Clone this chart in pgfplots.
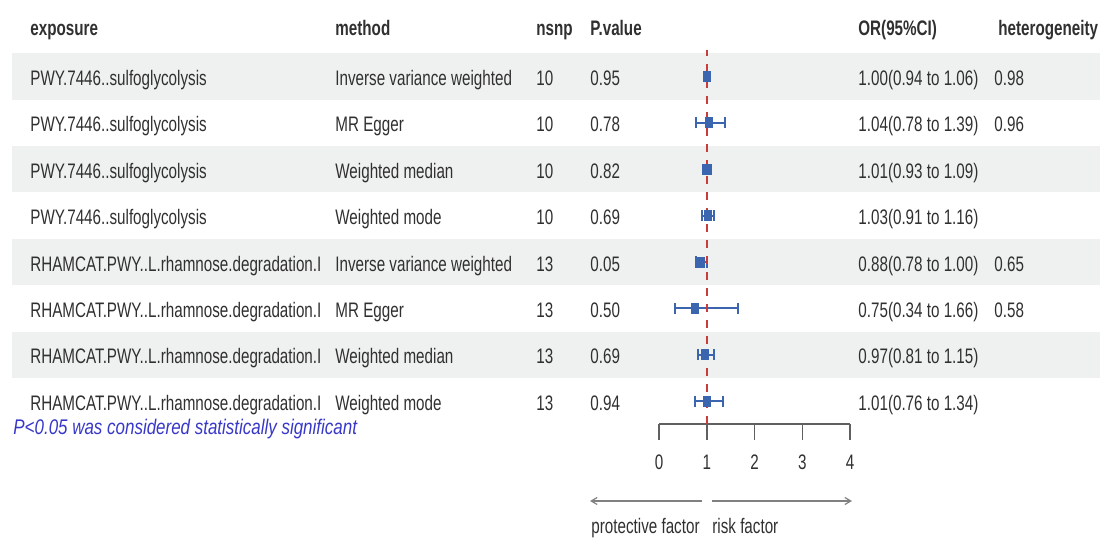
\documentclass[border=0pt]{standalone}
\usepackage{fontspec}
\setmainfont{Liberation Sans}[FakeStretch=0.724]
\newfontfamily\notefont{Liberation Sans}[FakeStretch=0.8]
\usepackage{pgfplots}
\pgfplotsset{compat=1.18}
\usepackage{pgfplotstable}
\usetikzlibrary{arrows.meta}

\definecolor{band}{HTML}{EFF1F1}
\definecolor{ptblue}{HTML}{3B65AE}
\definecolor{txt}{HTML}{303030}
\definecolor{notecol}{HTML}{3838C8}
\definecolor{refred}{HTML}{C83C3C}
\definecolor{axgray}{HTML}{606060}

\newcommand{\fs}{\fontsize{10.5bp}{12bp}\selectfont}

% forest data: y = 541 - pixel row centre
\pgfplotstableread{
row y or lo hi ep em
1 464.5 1.00 0.94 1.06 0.06 0.06
2 418.1 1.04 0.78 1.39 0.35 0.26
3 371.7 1.01 0.93 1.09 0.08 0.08
4 325.3 1.03 0.91 1.16 0.13 0.12
5 278.9 0.88 0.78 1.00 0.12 0.10
6 232.5 0.75 0.34 1.66 0.91 0.41
7 186.1 0.97 0.81 1.15 0.18 0.16
8 139.7 1.01 0.76 1.34 0.33 0.25
}\fdata

\tikzset{t/.style={anchor=base west, inner sep=0pt, font=\fs, text=txt},
         h/.style={anchor=base west, inner sep=0pt, font=\fs\bfseries, text=txt}}

\newcommand{\trow}[7]{%
  \node[t] at (axis cs:30,#1) {#2};
  \node[t] at (axis cs:335,#1) {#3};
  \node[t] at (axis cs:536,#1) {#4};
  \node[t] at (axis cs:590,#1) {#5};
  \node[t] at (axis cs:858,#1) {#6};
  \node[t] at (axis cs:994,#1) {#7};
}

\begin{document}
\begin{tikzpicture}
\begin{axis}[name=tbl, x=0.5bp, y=0.5bp, y dir=reverse,
  xmin=0, xmax=1104, ymin=0, ymax=541, hide axis, clip=false]
  \path (axis cs:0,0) rectangle (axis cs:1104,541);
  % shaded bands (rows 1,3,5,7)
  \addplot[fill=band, draw=none] coordinates {(12,53.3)(1100,53.3)(1100,99.7)(12,99.7)};
  \addplot[fill=band, draw=none] coordinates {(12,146.1)(1100,146.1)(1100,192.5)(12,192.5)};
  \addplot[fill=band, draw=none] coordinates {(12,238.9)(1100,238.9)(1100,285.3)(12,285.3)};
  \addplot[fill=band, draw=none] coordinates {(12,331.7)(1100,331.7)(1100,378.1)(12,378.1)};
  % header
  \node[h] at (axis cs:30,36) {exposure};
  \node[h] at (axis cs:335,36) {method};
  \node[h] at (axis cs:536,36) {nsnp};
  \node[h] at (axis cs:590,36) {P.value};
  \node[h] at (axis cs:858,36) {OR(95\%CI)};
  \node[h] at (axis cs:998,36) {heterogeneity};
  % rows
  \trow{85.5}{PWY.7446..sulfoglycolysis}{Inverse variance weighted}{10}{0.95}{1.00(0.94 to 1.06)}{0.98}
  \trow{131.9}{PWY.7446..sulfoglycolysis}{MR Egger}{10}{0.78}{1.04(0.78 to 1.39)}{0.96}
  \trow{178.3}{PWY.7446..sulfoglycolysis}{Weighted median}{10}{0.82}{1.01(0.93 to 1.09)}{}
  \trow{224.7}{PWY.7446..sulfoglycolysis}{Weighted mode}{10}{0.69}{1.03(0.91 to 1.16)}{}
  \trow{271.1}{RHAMCAT.PWY..L.rhamnose.degradation.I}{Inverse variance weighted}{13}{0.05}{0.88(0.78 to 1.00)}{0.65}
  \trow{317.5}{RHAMCAT.PWY..L.rhamnose.degradation.I}{MR Egger}{13}{0.50}{0.75(0.34 to 1.66)}{0.58}
  \trow{363.9}{RHAMCAT.PWY..L.rhamnose.degradation.I}{Weighted median}{13}{0.69}{0.97(0.81 to 1.15)}{}
  \trow{410.3}{RHAMCAT.PWY..L.rhamnose.degradation.I}{Weighted mode}{13}{0.94}{1.01(0.76 to 1.34)}{}
  % footnote
  \node[anchor=base west, inner sep=0pt, font=\notefont\fontsize{10.6bp}{12bp}\selectfont\itshape, text=notecol] at (axis cs:13,434) {P<0.05 was considered statistically significant};
  % direction arrows
  \draw[axgray!80, line width=0.6bp, -{Straight Barb[length=3bp,width=3.5bp]}] (axis cs:702,501) -- (axis cs:590,501);
  \draw[axgray!80, line width=0.6bp, -{Straight Barb[length=3bp,width=3.5bp]}] (axis cs:712,501) -- (axis cs:852,501);
  \node[anchor=base east, inner sep=0pt, font=\fs, text=txt] at (axis cs:700,533) {protective factor};
  \node[anchor=base west, inner sep=0pt, font=\fs, text=txt] at (axis cs:712,533) {risk factor};
  \coordinate (fo) at (axis cs:659,424);
\end{axis}

\begin{axis}[at={(fo)}, anchor=south west,
  x=23.875bp, y=0.5bp, xmin=0, xmax=4, ymin=117, ymax=500,
  axis x line*=bottom, axis y line=none, ytick=\empty,
  xtick={0,1,2,3,4}, tick align=outside, major tick length=8bp,
  axis line style={axgray, line width=0.75bp},
  xtick style={axgray, line width=0.75bp},
  /pgf/number format/assume math mode=true,
  xticklabel style={font=\fs, text=txt, anchor=base, yshift=-14.5bp},
  clip=false]
  \addplot[only marks, mark=square*, mark size=2.5bp, color=ptblue,
    mark options={xscale=0.7},
    error bars/.cd, x dir=both, x explicit,
    error bar style={line width=1bp, ptblue},
    error mark=|, error mark options={mark size=2.8bp, line width=1bp, ptblue}]
    table[x=or, y=y, x error plus=ep, x error minus=em] {\fdata};
  \addplot[refred, line width=0.8bp, dash pattern=on 4bp off 4bp] coordinates {(1,117)(1,491)};
\end{axis}
\end{tikzpicture}
\end{document}
